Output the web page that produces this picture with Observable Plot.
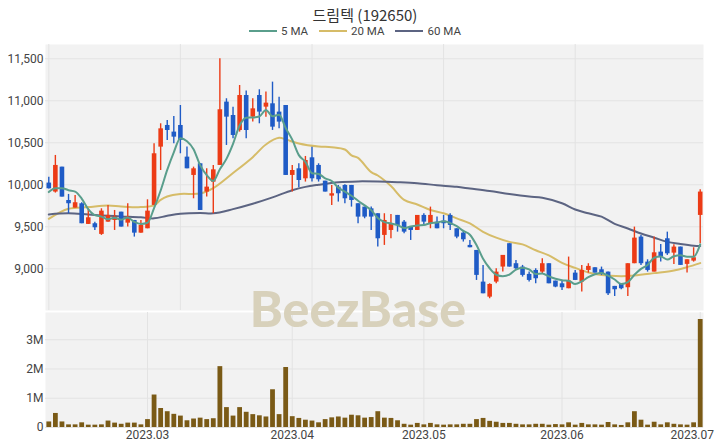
<!DOCTYPE html>
<html>
<head>
<meta charset="utf-8">
<script src="https://cdn.jsdelivr.net/npm/d3@7"></script>
<script src="https://cdn.jsdelivr.net/npm/@observablehq/plot@0.6"></script>
<style>
  body { margin: 0; background: #fff; }
  #chart { position: relative; width: 720px; height: 448px; overflow: hidden;
           font-family: Roboto, "Noto Sans CJK KR", sans-serif; color: #333; }
  #title { position: absolute; top: 4px; left: 0; width: 730px; text-align: center;
           font-size: 15px; font-family: "Noto Sans CJK KR", Roboto, sans-serif; color: #333; }
  #legend { position: absolute; top: 24px; left: 0; width: 710px; display: flex;
            justify-content: center; gap: 11px; font-size: 11.5px; color: #444; }
  #legend span { display: flex; align-items: center; gap: 4px; }
  #legend i { display: inline-block; width: 28px; height: 2px; }
  .panel { position: absolute; left: 0; }
  #mark { position: absolute; left: 0; width: 716px; top: 278px; text-align: center;
          font-family: Lato, sans-serif; font-weight: 900; font-size: 50px;
          color: #d8d1bb; pointer-events: none; }
</style>
</head>
<body>
<div id="chart">
  <div id="title">드림텍 (192650)</div>
  <div id="legend"></div>
  <div id="price" class="panel" style="top:0"></div>
  <div id="volume" class="panel" style="top:312px"></div>
  <div id="mark">BeezBase</div>
</div>
<script>
// Trading days shown on the chart
const dates = [
  "2023-02-08","2023-02-09","2023-02-10","2023-02-13","2023-02-14","2023-02-15","2023-02-16","2023-02-17",
  "2023-02-20","2023-02-21","2023-02-22","2023-02-23","2023-02-24","2023-02-27","2023-02-28",
  "2023-03-02","2023-03-03","2023-03-06","2023-03-07","2023-03-08","2023-03-09","2023-03-10",
  "2023-03-13","2023-03-14","2023-03-15","2023-03-16","2023-03-17","2023-03-20","2023-03-21",
  "2023-03-22","2023-03-23","2023-03-24","2023-03-27","2023-03-28","2023-03-29","2023-03-30","2023-03-31",
  "2023-04-03","2023-04-04","2023-04-05","2023-04-06","2023-04-07","2023-04-10","2023-04-11",
  "2023-04-12","2023-04-13","2023-04-14","2023-04-17","2023-04-18","2023-04-19","2023-04-20",
  "2023-04-21","2023-04-24","2023-04-25","2023-04-26","2023-04-27","2023-04-28",
  "2023-05-01","2023-05-02","2023-05-03","2023-05-04","2023-05-08","2023-05-09","2023-05-10",
  "2023-05-11","2023-05-12","2023-05-15","2023-05-16","2023-05-17","2023-05-18","2023-05-19",
  "2023-05-22","2023-05-23","2023-05-24","2023-05-25","2023-05-26","2023-05-30","2023-05-31",
  "2023-06-01","2023-06-02","2023-06-05","2023-06-07","2023-06-08","2023-06-09","2023-06-12",
  "2023-06-13","2023-06-14","2023-06-15","2023-06-16","2023-06-19","2023-06-20","2023-06-21",
  "2023-06-22","2023-06-23","2023-06-26","2023-06-27","2023-06-28","2023-06-29","2023-06-30",
  "2023-07-03"
];

const open = [
  10020, 9913,10210, 9813, 9722, 9774, 9528, 9536, 9409, 9555, 9575, 9674, 9543, 9575, 9424,
  9476, 9754,10448,10706,10627,10706,10329,10111,10250, 9913,10031,10230,10984,10825,10646,
  11063,10805,11063,10924,10964,10865,10944,10111,10190,10071,10321,10230,10043, 9865, 9972,
  9992, 9992, 9774, 9734, 9714, 9655, 9397, 9456, 9635, 9555, 9496, 9456, 9635, 9536, 9555,
  9567, 9635, 9476, 9424, 9278, 9218, 8841, 8662, 8841, 9020, 9298, 9060, 9020, 8933, 8980,
  8960, 9060, 8853, 8821, 8762, 8948, 8841, 8980, 9012, 8988, 8960, 8790, 8821, 8774, 9060,
  9377, 9079, 8960, 9198, 9357, 9186, 9258, 9052, 9091, 9635
];
const high = [
  10090,10349,10210, 9885, 9873, 9786, 9714, 9555, 9714, 9754, 9694, 9674, 9774, 9575, 9575,
  9821,10488,10726,10766,10813,10944,10450,10210,10250,10190,10230,11500,11024,10924,11182,
  11115,11024,11131,11103,11222,11043,10944,10230,10250,10337,10448,10250,10043, 9992, 9992,
  10000, 9992, 9774, 9734, 9734, 9655, 9655, 9647, 9635, 9575, 9496, 9635, 9655, 9734, 9615,
  9635, 9655, 9476, 9456, 9337, 9218, 9040, 8821, 8999, 9159, 9298, 9099, 9040, 8960, 8999,
  9119, 9060, 8853, 8861, 9139, 8980, 9040, 9060, 9012, 9020, 8960, 8790, 8821, 9060, 9496,
  9397, 9107, 9377, 9289, 9436, 9285, 9258, 9107, 9250, 9940
];
const low = [
  9950, 9901, 9853, 9655, 9722, 9536, 9528, 9456, 9397, 9555, 9456, 9496, 9496, 9377, 9424,
  9476, 9754,10170,10528,10488,10369,10190, 9833, 9694, 9853, 9655,10230,10468,10547,10627,
  10547,10746,10726,10805,10647,10666,10111, 9913, 9964,10032,10032,10032, 9913, 9754, 9794,
  9773, 9734, 9536, 9595, 9456, 9258, 9278, 9357, 9436, 9416, 9337, 9456, 9516, 9476, 9476,
  9476, 9456, 9357, 9318, 9250, 8861, 8702, 8643, 8821, 8960, 9020, 8980, 8901, 8841, 8821,
  8940, 8821, 8774, 8742, 8762, 8861, 8722, 8948, 8948, 8921, 8682, 8670, 8750, 8670, 9060,
  9040, 8960, 8960, 9079, 9159, 9052, 9040, 8948, 9079, 9298
];
const close = [
  9952,10230, 9853, 9774, 9786, 9536, 9607, 9488, 9686, 9635, 9615, 9496, 9615, 9424, 9516,
  9686,10369,10666,10646,10567,10528,10190,10190, 9694, 9972,10178,10893,10805,10587,11063,
  10646,10904,10865,10972,10686,10746,10111,10170,10051,10289,10071,10059, 9913, 9893, 9893,
  9833, 9813, 9615, 9615, 9615, 9357, 9575, 9536, 9516, 9436, 9456, 9635, 9555, 9635, 9476,
  9536, 9516, 9377, 9345, 9250, 8921, 8702, 8813, 8960, 9159, 9020, 9000, 8921, 8861, 8881,
  9060, 8821, 8782, 8774, 8853, 8861, 8980, 9028, 8948, 8932, 8702, 8750, 8762, 9060, 9365,
  9060, 8980, 9190, 9139, 9178, 9258, 9040, 9107, 9131, 9913
];
// Traded volume, millions of shares
const volume = [
  0.19,0.48,0.19,0.09,0.09,0.16,0.08,0.08,0.09,0.22,0.15,0.11,0.15,0.15,0.09,
  0.27,1.11,0.65,0.54,0.45,0.39,0.23,0.29,0.32,0.27,0.30,2.08,0.68,0.39,0.68,
  0.52,0.44,0.40,0.36,1.29,0.44,2.05,0.37,0.31,0.25,0.22,0.16,0.27,0.33,0.36,
  0.32,0.42,0.40,0.32,0.34,0.54,0.32,0.31,0.23,0.11,0.08,0.14,0.09,0.14,0.09,
  0.08,0.09,0.09,0.11,0.11,0.27,0.31,0.21,0.18,0.14,0.14,0.11,0.09,0.09,0.11,
  0.11,0.08,0.10,0.09,0.16,0.08,0.14,0.09,0.09,0.08,0.17,0.09,0.07,0.16,0.54,
  0.25,0.08,0.18,0.09,0.16,0.11,0.09,0.08,0.16,3.69
];

// Moving averages of the close
const ma5 = [
  9913, 9960, 9960, 9935, 9919, 9836, 9711, 9638, 9621, 9590, 9606, 9584, 9609, 9557, 9533,
  9547, 9722, 9932,10177,10387,10555,10519,10424,10234,10115,10045,10185,10308,10487,10705,
  10799,10801,10813,10890,10815,10835,10676,10537,10353,10273,10138,10128,10077,10045, 9966,
  9918, 9869, 9809, 9754, 9698, 9603, 9555, 9540, 9520, 9484, 9504, 9516, 9520, 9543, 9551,
  9567, 9544, 9508, 9450, 9405, 9282, 9119, 9006, 8929, 8911, 8930, 8990, 9012, 8992, 8937,
  8945, 8909, 8881, 8864, 8858, 8818, 8850, 8899, 8934, 8950, 8918, 8872, 8819, 8841, 8928,
  8999, 9045, 9131, 9147, 9109, 9149, 9161, 9144, 9143, 9290
];
const ma20Bar = [0, 3, 6, 9, 11, 14, 16, 17, 18, 20, 23, 25, 28, 31, 33, 35, 36, 38, 41, 43, 45, 46, 47,
  49, 50, 52, 54, 56, 58, 60, 62, 64, 66, 68, 70, 72, 74, 76, 78, 80, 82, 84, 87, 89, 92, 95, 97, 99];
const ma20 = [9595, 9714, 9734, 9754, 9742, 9734, 9754, 9820, 9860, 9890, 9895, 9960, 10140, 10329,
  10480, 10559, 10540, 10492, 10456, 10448, 10420, 10350, 10320, 10150, 10110, 9985, 9820, 9765,
  9700, 9660, 9600, 9540, 9440, 9370, 9320, 9290, 9220, 9160, 9070, 9010, 8955, 8925, 8912, 8920,
  8948, 8979, 9019, 9067];
const ma60Bar = [0, 3, 6, 8, 11, 14, 16, 18, 20, 23, 25, 28, 31, 34, 37, 39, 41, 44, 47, 50, 53, 56,
  59, 62, 64, 67, 70, 73, 75, 78, 80, 82, 84, 86, 88, 90, 92, 94, 96, 98, 99];
const ma60 = [9647, 9660, 9645, 9635, 9623, 9612, 9600, 9630, 9655, 9665, 9660, 9710, 9774, 9850,
  9935, 9975, 10000, 10030, 10040, 10038, 10030, 10018, 9995, 9975, 9955, 9925, 9890, 9860, 9845,
  9780, 9705, 9660, 9620, 9535, 9480, 9420, 9370, 9320, 9295, 9275, 9270];

const priceTicks = [9000, 9500, 10000, 10500, 11000, 11500];
const volumeTicks = [0, 1, 2, 3];
const priceGridBars = [0, 20, 40, 60, 80];

const UP = "#ec3b16", DOWN = "#1f5bc6";
const C5 = "#5a9e8c", C20 = "#d6bc68", C60 = "#5c6482", VOL = "#7a5a16";
const PANEL = "#f2f2f2", GRID = "#e3e3e3";

const bars = dates.map((date, i) => ({
  i, date, open: open[i], high: high[i], low: low[i], close: close[i], volume: volume[i],
  up: close[i] >= open[i]
}));
const ma5Rows = ma5.map((v, i) => ({i, v}));
const ma20Rows = ma20.map((v, k) => ({i: ma20Bar[k], v}));
const ma60Rows = ma60.map((v, k) => ({i: ma60Bar[k], v}));

// First trading day of each month gets a tick on the shared time axis
const monthStarts = dates.map((d, i) => i).filter(i => i > 0 && dates[i].slice(5, 7) !== dates[i - 1].slice(5, 7));
const monthLabel = i => dates[i].slice(0, 7).replace("-", ".");

const xDomain = [-0.5, dates.length - 0.5];
const common = {width: 720, marginLeft: 45, marginRight: 17, style: {fontFamily: "Roboto, sans-serif", fontSize: "12px", color: "#444", background: "transparent", overflow: "visible"}};

const price = Plot.plot({
  ...common,
  height: 310, marginTop: 44, marginBottom: 0,
  x: {domain: xDomain, axis: null},
  y: {domain: [8503, 11670], axis: null},
  marks: [
    Plot.frame({fill: PANEL, stroke: null}),
    Plot.gridY(priceTicks, {stroke: GRID, strokeOpacity: 1}),
    Plot.gridX(priceGridBars, {stroke: GRID, strokeOpacity: 1}),
    Plot.axisY(priceTicks, {tickSize: 0, tickPadding: 2, tickFormat: d3.format(","), fill: "#444", label: null}),
    Plot.line(ma20Rows, {x: "i", y: "v", stroke: C20, strokeWidth: 2, curve: "catmull-rom"}),
    Plot.line(ma60Rows, {x: "i", y: "v", stroke: C60, strokeWidth: 2, curve: "catmull-rom"}),
    Plot.ruleX(bars, {x: "i", y1: "low", y2: "high", stroke: d => d.up ? UP : DOWN, strokeWidth: 1.4}),
    Plot.ruleX(bars, {x: "i", y1: "open", y2: "close", stroke: d => d.up ? UP : DOWN, strokeWidth: 4.6}),
    Plot.line(ma5Rows, {x: "i", y: "v", stroke: C5, strokeWidth: 2, curve: "monotone-x"})
  ]
});
document.getElementById("price").append(price);

const vol = Plot.plot({
  ...common,
  height: 136, marginTop: 0, marginBottom: 21,
  x: {domain: xDomain, axis: null},
  y: {domain: [0, 3.93], axis: null},
  marks: [
    Plot.frame({fill: PANEL, stroke: null}),
    Plot.gridY(volumeTicks, {stroke: GRID, strokeOpacity: 1}),
    Plot.gridX(monthStarts, {stroke: GRID, strokeOpacity: 1}),
    Plot.axisY(volumeTicks, {tickSize: 0, tickPadding: 2, tickFormat: d => d === 0 ? "0" : d + "M", fill: "#444", label: null}),
    Plot.axisX(monthStarts.slice(0, -1), {tickSize: 0, tickPadding: 3, tickFormat: monthLabel, fill: "#444", label: null}),
    Plot.axisX(monthStarts.slice(-1), {tickSize: 0, tickPadding: 3, tickFormat: monthLabel, fill: "#444", dx: -8, label: null}),
    Plot.ruleX(bars, {x: "i", y1: 0, y2: "volume", stroke: VOL, strokeWidth: 4.8})
  ]
});
document.getElementById("volume").append(vol);

// Legend for the moving-average lines
const legend = document.getElementById("legend");
[["5 MA", C5], ["20 MA", C20], ["60 MA", C60]].forEach(([name, color]) => {
  const s = document.createElement("span");
  s.innerHTML = `<i style="background:${color}"></i>${name}`;
  legend.append(s);
});
</script>
</body>
</html>
